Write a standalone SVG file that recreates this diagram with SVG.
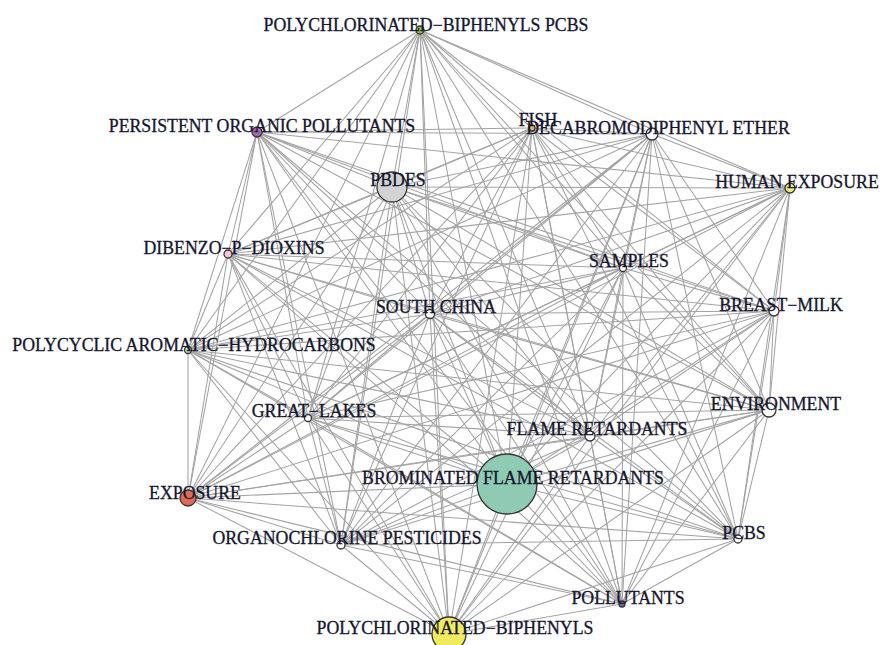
<svg xmlns="http://www.w3.org/2000/svg" width="880" height="645" viewBox="0 0 880 645">
<style>
.e line{stroke:#a3a3a3;stroke-width:1.05}
.nd{stroke:#333;stroke-width:1.3}
.lb{font-family:"Liberation Serif","Times New Roman",serif;font-size:17.8px;fill:#15162e;stroke:#15162e;stroke-width:0.3;text-anchor:middle}
</style>
<rect width="880" height="645" fill="#fff"/>
<g id="edges" class="e">
<line x1="420" y1="30" x2="257" y2="132"/><line x1="420" y1="30" x2="532" y2="128"/><line x1="420" y1="30" x2="652" y2="134"/><line x1="420" y1="30" x2="392" y2="187"/><line x1="420" y1="30" x2="790" y2="188"/><line x1="420" y1="30" x2="228" y2="254"/><line x1="420" y1="30" x2="623" y2="268"/><line x1="420" y1="30" x2="430" y2="314"/><line x1="420" y1="30" x2="774" y2="311"/><line x1="420" y1="30" x2="188" y2="350"/><line x1="420" y1="30" x2="769" y2="410"/><line x1="420" y1="30" x2="308" y2="418"/><line x1="420" y1="30" x2="590" y2="436"/><line x1="420" y1="30" x2="507" y2="484"/><line x1="420" y1="30" x2="188" y2="498"/><line x1="420" y1="30" x2="341" y2="545"/><line x1="420" y1="30" x2="738" y2="539"/><line x1="420" y1="30" x2="622" y2="604"/><line x1="420" y1="30" x2="449" y2="634"/>
<line x1="257" y1="132" x2="532" y2="128"/><line x1="257" y1="132" x2="652" y2="134"/><line x1="257" y1="132" x2="392" y2="187"/><line x1="257" y1="132" x2="790" y2="188"/><line x1="257" y1="132" x2="228" y2="254"/><line x1="257" y1="132" x2="623" y2="268"/><line x1="257" y1="132" x2="430" y2="314"/><line x1="257" y1="132" x2="774" y2="311"/><line x1="257" y1="132" x2="188" y2="350"/><line x1="257" y1="132" x2="769" y2="410"/><line x1="257" y1="132" x2="308" y2="418"/><line x1="257" y1="132" x2="590" y2="436"/><line x1="257" y1="132" x2="507" y2="484"/><line x1="257" y1="132" x2="188" y2="498"/><line x1="257" y1="132" x2="341" y2="545"/><line x1="257" y1="132" x2="738" y2="539"/><line x1="257" y1="132" x2="622" y2="604"/><line x1="257" y1="132" x2="449" y2="634"/>
<line x1="532" y1="128" x2="652" y2="134"/><line x1="532" y1="128" x2="392" y2="187"/><line x1="532" y1="128" x2="790" y2="188"/><line x1="532" y1="128" x2="228" y2="254"/><line x1="532" y1="128" x2="623" y2="268"/><line x1="532" y1="128" x2="430" y2="314"/><line x1="532" y1="128" x2="774" y2="311"/><line x1="532" y1="128" x2="188" y2="350"/><line x1="532" y1="128" x2="769" y2="410"/><line x1="532" y1="128" x2="308" y2="418"/><line x1="532" y1="128" x2="590" y2="436"/><line x1="532" y1="128" x2="507" y2="484"/><line x1="532" y1="128" x2="188" y2="498"/><line x1="532" y1="128" x2="341" y2="545"/><line x1="532" y1="128" x2="738" y2="539"/><line x1="532" y1="128" x2="622" y2="604"/><line x1="532" y1="128" x2="449" y2="634"/>
<line x1="652" y1="134" x2="392" y2="187"/><line x1="652" y1="134" x2="790" y2="188"/><line x1="652" y1="134" x2="228" y2="254"/><line x1="652" y1="134" x2="623" y2="268"/><line x1="652" y1="134" x2="430" y2="314"/><line x1="652" y1="134" x2="774" y2="311"/><line x1="652" y1="134" x2="188" y2="350"/><line x1="652" y1="134" x2="769" y2="410"/><line x1="652" y1="134" x2="308" y2="418"/><line x1="652" y1="134" x2="590" y2="436"/><line x1="652" y1="134" x2="507" y2="484"/><line x1="652" y1="134" x2="188" y2="498"/><line x1="652" y1="134" x2="341" y2="545"/><line x1="652" y1="134" x2="738" y2="539"/><line x1="652" y1="134" x2="622" y2="604"/><line x1="652" y1="134" x2="449" y2="634"/>
<line x1="392" y1="187" x2="790" y2="188"/><line x1="392" y1="187" x2="228" y2="254"/><line x1="392" y1="187" x2="623" y2="268"/><line x1="392" y1="187" x2="430" y2="314"/><line x1="392" y1="187" x2="774" y2="311"/><line x1="392" y1="187" x2="188" y2="350"/><line x1="392" y1="187" x2="769" y2="410"/><line x1="392" y1="187" x2="308" y2="418"/><line x1="392" y1="187" x2="590" y2="436"/><line x1="392" y1="187" x2="507" y2="484"/><line x1="392" y1="187" x2="188" y2="498"/><line x1="392" y1="187" x2="341" y2="545"/><line x1="392" y1="187" x2="738" y2="539"/><line x1="392" y1="187" x2="622" y2="604"/><line x1="392" y1="187" x2="449" y2="634"/>
<line x1="790" y1="188" x2="228" y2="254"/><line x1="790" y1="188" x2="623" y2="268"/><line x1="790" y1="188" x2="430" y2="314"/><line x1="790" y1="188" x2="774" y2="311"/><line x1="790" y1="188" x2="188" y2="350"/><line x1="790" y1="188" x2="769" y2="410"/><line x1="790" y1="188" x2="308" y2="418"/><line x1="790" y1="188" x2="590" y2="436"/><line x1="790" y1="188" x2="507" y2="484"/><line x1="790" y1="188" x2="188" y2="498"/><line x1="790" y1="188" x2="341" y2="545"/><line x1="790" y1="188" x2="738" y2="539"/><line x1="790" y1="188" x2="622" y2="604"/><line x1="790" y1="188" x2="449" y2="634"/>
<line x1="228" y1="254" x2="623" y2="268"/><line x1="228" y1="254" x2="430" y2="314"/><line x1="228" y1="254" x2="774" y2="311"/><line x1="228" y1="254" x2="188" y2="350"/><line x1="228" y1="254" x2="769" y2="410"/><line x1="228" y1="254" x2="308" y2="418"/><line x1="228" y1="254" x2="590" y2="436"/><line x1="228" y1="254" x2="507" y2="484"/><line x1="228" y1="254" x2="188" y2="498"/><line x1="228" y1="254" x2="341" y2="545"/><line x1="228" y1="254" x2="738" y2="539"/><line x1="228" y1="254" x2="622" y2="604"/><line x1="228" y1="254" x2="449" y2="634"/>
<line x1="623" y1="268" x2="430" y2="314"/><line x1="623" y1="268" x2="774" y2="311"/><line x1="623" y1="268" x2="188" y2="350"/><line x1="623" y1="268" x2="769" y2="410"/><line x1="623" y1="268" x2="308" y2="418"/><line x1="623" y1="268" x2="590" y2="436"/><line x1="623" y1="268" x2="507" y2="484"/><line x1="623" y1="268" x2="188" y2="498"/><line x1="623" y1="268" x2="341" y2="545"/><line x1="623" y1="268" x2="738" y2="539"/><line x1="623" y1="268" x2="622" y2="604"/><line x1="623" y1="268" x2="449" y2="634"/>
<line x1="430" y1="314" x2="774" y2="311"/><line x1="430" y1="314" x2="188" y2="350"/><line x1="430" y1="314" x2="769" y2="410"/><line x1="430" y1="314" x2="308" y2="418"/><line x1="430" y1="314" x2="590" y2="436"/><line x1="430" y1="314" x2="507" y2="484"/><line x1="430" y1="314" x2="188" y2="498"/><line x1="430" y1="314" x2="341" y2="545"/><line x1="430" y1="314" x2="738" y2="539"/><line x1="430" y1="314" x2="622" y2="604"/><line x1="430" y1="314" x2="449" y2="634"/>
<line x1="774" y1="311" x2="188" y2="350"/><line x1="774" y1="311" x2="769" y2="410"/><line x1="774" y1="311" x2="308" y2="418"/><line x1="774" y1="311" x2="590" y2="436"/><line x1="774" y1="311" x2="507" y2="484"/><line x1="774" y1="311" x2="188" y2="498"/><line x1="774" y1="311" x2="341" y2="545"/><line x1="774" y1="311" x2="738" y2="539"/><line x1="774" y1="311" x2="622" y2="604"/><line x1="774" y1="311" x2="449" y2="634"/>
<line x1="188" y1="350" x2="769" y2="410"/><line x1="188" y1="350" x2="308" y2="418"/><line x1="188" y1="350" x2="590" y2="436"/><line x1="188" y1="350" x2="507" y2="484"/><line x1="188" y1="350" x2="188" y2="498"/><line x1="188" y1="350" x2="341" y2="545"/><line x1="188" y1="350" x2="738" y2="539"/><line x1="188" y1="350" x2="622" y2="604"/><line x1="188" y1="350" x2="449" y2="634"/>
<line x1="769" y1="410" x2="308" y2="418"/><line x1="769" y1="410" x2="590" y2="436"/><line x1="769" y1="410" x2="507" y2="484"/><line x1="769" y1="410" x2="188" y2="498"/><line x1="769" y1="410" x2="341" y2="545"/><line x1="769" y1="410" x2="738" y2="539"/><line x1="769" y1="410" x2="622" y2="604"/><line x1="769" y1="410" x2="449" y2="634"/>
<line x1="308" y1="418" x2="590" y2="436"/><line x1="308" y1="418" x2="507" y2="484"/><line x1="308" y1="418" x2="188" y2="498"/><line x1="308" y1="418" x2="341" y2="545"/><line x1="308" y1="418" x2="738" y2="539"/><line x1="308" y1="418" x2="622" y2="604"/><line x1="308" y1="418" x2="449" y2="634"/>
<line x1="590" y1="436" x2="507" y2="484"/><line x1="590" y1="436" x2="188" y2="498"/><line x1="590" y1="436" x2="341" y2="545"/><line x1="590" y1="436" x2="738" y2="539"/><line x1="590" y1="436" x2="622" y2="604"/><line x1="590" y1="436" x2="449" y2="634"/>
<line x1="507" y1="484" x2="188" y2="498"/><line x1="507" y1="484" x2="341" y2="545"/><line x1="507" y1="484" x2="738" y2="539"/><line x1="507" y1="484" x2="622" y2="604"/><line x1="507" y1="484" x2="449" y2="634"/>
<line x1="188" y1="498" x2="341" y2="545"/><line x1="188" y1="498" x2="738" y2="539"/><line x1="188" y1="498" x2="622" y2="604"/><line x1="188" y1="498" x2="449" y2="634"/>
<line x1="341" y1="545" x2="738" y2="539"/><line x1="341" y1="545" x2="622" y2="604"/><line x1="341" y1="545" x2="449" y2="634"/>
<line x1="738" y1="539" x2="622" y2="604"/><line x1="738" y1="539" x2="449" y2="634"/>
<line x1="622" y1="604" x2="449" y2="634"/>
</g>
<g id="n-polychlorinated-biphenyls-pcbs"><circle class="nd" cx="420" cy="30" r="4" fill="#8cc43c"/><text class="lb" x="426" y="31">POLYCHLORINATED−BIPHENYLS PCBS</text></g>
<g id="n-persistent-organic-pollutants"><circle class="nd" cx="257" cy="132" r="5" fill="#a566b8"/><text class="lb" x="262" y="132">PERSISTENT ORGANIC POLLUTANTS</text></g>
<g id="n-fish"><circle class="nd" cx="532" cy="128" r="3" fill="#f2b25e"/><text class="lb" x="538" y="126">FISH</text></g>
<g id="n-decabromodiphenyl-ether"><circle class="nd" cx="652" cy="134" r="6" fill="#fff"/><text class="lb" x="658" y="134">DECABROMODIPHENYL ETHER</text></g>
<g id="n-pbdes"><circle class="nd" cx="392" cy="187" r="15" fill="#d3d3d3"/><text class="lb" x="398" y="186">PBDES</text></g>
<g id="n-human-exposure"><circle class="nd" cx="790" cy="188" r="5" fill="#eaea86"/><text class="lb" x="797" y="188">HUMAN EXPOSURE</text></g>
<g id="n-dibenzo-p-dioxins"><circle class="nd" cx="228" cy="254" r="4" fill="#f6c2dc"/><text class="lb" x="234" y="254">DIBENZO−P−DIOXINS</text></g>
<g id="n-samples"><circle class="nd" cx="623" cy="268" r="3.5" fill="#fff"/><text class="lb" x="629" y="267">SAMPLES</text></g>
<g id="n-south-china"><circle class="nd" cx="430" cy="314" r="4.5" fill="#fff"/><text class="lb" x="436" y="313">SOUTH CHINA</text></g>
<g id="n-breast-milk"><circle class="nd" cx="774" cy="311" r="5" fill="#fff"/><text class="lb" x="781" y="311">BREAST−MILK</text></g>
<g id="n-polycyclic-aromatic-hydrocarbons"><circle class="nd" cx="188" cy="350" r="3.5" fill="#c4e3b2"/><text class="lb" x="194" y="351">POLYCYCLIC AROMATIC−HYDROCARBONS</text></g>
<g id="n-environment"><circle class="nd" cx="769" cy="410" r="7" fill="#fff"/><text class="lb" x="776" y="410">ENVIRONMENT</text></g>
<g id="n-great-lakes"><circle class="nd" cx="308" cy="418" r="3.5" fill="#fff"/><text class="lb" x="314" y="417">GREAT−LAKES</text></g>
<g id="n-flame-retardants"><circle class="nd" cx="590" cy="436" r="5" fill="#fff"/><text class="lb" x="597" y="435">FLAME RETARDANTS</text></g>
<g id="n-brominated-flame-retardants"><circle class="nd" cx="507" cy="484" r="30" fill="#8fcab3"/><text class="lb" x="513" y="484">BROMINATED FLAME RETARDANTS</text></g>
<g id="n-exposure"><circle class="nd" cx="188" cy="498" r="8" fill="#e06a55"/><text class="lb" x="195" y="499">EXPOSURE</text></g>
<g id="n-organochlorine-pesticides"><circle class="nd" cx="341" cy="545" r="4" fill="#fff"/><text class="lb" x="347" y="544">ORGANOCHLORINE PESTICIDES</text></g>
<g id="n-pcbs"><circle class="nd" cx="738" cy="539" r="4" fill="#fff"/><text class="lb" x="744" y="539">PCBS</text></g>
<g id="n-pollutants"><circle class="nd" cx="622" cy="604" r="3" fill="#5b7fa6"/><text class="lb" x="628" y="604">POLLUTANTS</text></g>
<g id="n-polychlorinated-biphenyls"><circle class="nd" cx="449" cy="634" r="17" fill="#f0ea5e"/><text class="lb" x="455" y="634">POLYCHLORINATED−BIPHENYLS</text></g>
</svg>
